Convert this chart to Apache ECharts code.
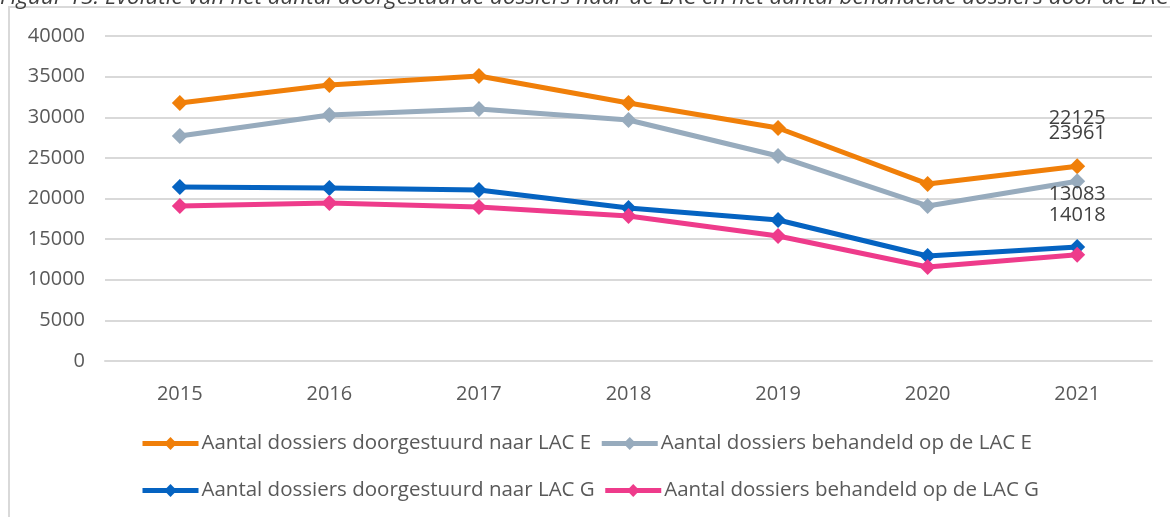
<!DOCTYPE html>
<html>
<head>
<meta charset="utf-8">
<script src="https://cdn.jsdelivr.net/npm/echarts@6/dist/echarts.min.js"></script>
<style>
html,body{margin:0;padding:0;background:#fff;}
#chart{width:1170px;height:517px;}
</style>
</head>
<body>
<div id="chart"></div>
<script>
var categories = ['2015', '2016', '2017', '2018', '2019', '2020', '2021'];
var seriesNames = [
  'Aantal dossiers doorgestuurd naar LAC E',
  'Aantal dossiers behandeld op de LAC E',
  'Aantal dossiers doorgestuurd naar LAC G',
  'Aantal dossiers behandeld op de LAC G'
];
var doorgestuurdE = [31750, 33970, 35080, 31750, 28680, 21790, 23961];
var behandeldE    = [27700, 30280, 31020, 29660, 25230, 19080, 22125];
var doorgestuurdG = [21420, 21290, 21050, 18830, 17350, 12920, 14018];
var behandeldG    = [19080, 19450, 18950, 17850, 15380, 11570, 13083];
var yTicks = { min: 0, max: 40000, interval: 5000 };
var captionText = 'Figuur 13: Evolutie van het aantal doorgestuurde dossiers naar de LAC en het aantal behandelde dossiers door de LAC';

var colors = ['#F07F09', '#97ABBD', '#0563C1', '#EE3B8B'];
var FONT = '"Open Sans", sans-serif';
var lastLabelOffsets = [-10, -40, -9, -37];

function makeSeries(idx, data) {
  return {
    name: seriesNames[idx],
    type: 'line',
    data: data.map(function (v, i) {
      if (i === data.length - 1) {
        return {
          value: v,
          label: {
            show: true,
            position: 'top',
            offset: [0, lastLabelOffsets[idx]],
            color: '#404040',
            fontFamily: FONT,
            fontSize: 20,
            formatter: function (p) { return String(p.value); }
          }
        };
      }
      return v;
    }),
    symbol: 'diamond',
    symbolSize: 16,
    lineStyle: { width: 5, color: colors[idx] },
    itemStyle: { color: colors[idx] },
    emphasis: { disabled: true },
    animation: false
  };
}

var chart = echarts.init(document.getElementById('chart'), null, { renderer: 'canvas' });
var legendCommon = {
  itemWidth: 56,
  itemHeight: 16,
  itemGap: 8,
  padding: 0,
  lineStyle: { width: 5 },
  textStyle: { color: '#595959', fontFamily: FONT, fontSize: 20.5, padding: [0, 0, 0, -2] }
};
chart.setOption({
  color: colors,
  animation: false,
  graphic: [
    {
      type: 'rect',
      shape: { x: 9, y: 7, width: 1200, height: 600 },
      style: { fill: 'none', stroke: '#d9d9d9', lineWidth: 2 },
      silent: true
    },
    {
      type: 'text',
      left: 0,
      top: -14,
      style: {
        text: captionText,
        fontFamily: FONT,
        fontStyle: 'italic',
        fontSize: 22.5,
        fill: '#404040'
      },
      silent: true
    }
  ],
  grid: { left: 105, right: 18, top: 36, bottom: 156 },
  xAxis: {
    type: 'category',
    data: categories,
    boundaryGap: true,
    axisLine: { show: true, lineStyle: { color: '#d9d9d9', width: 2 } },
    axisTick: { show: false },
    axisLabel: { color: '#595959', fontFamily: FONT, fontSize: 20, margin: 23 }
  },
  yAxis: {
    type: 'value',
    min: yTicks.min,
    max: yTicks.max,
    interval: yTicks.interval,
    axisLine: { show: false },
    axisTick: { show: false },
    splitLine: { lineStyle: { color: '#d9d9d9', width: 2 } },
    axisLabel: {
      color: '#595959', fontFamily: FONT, fontSize: 20, margin: 20,
      formatter: function (v) { return String(v); }
    }
  },
  legend: [
    Object.assign({}, legendCommon, { data: [seriesNames[0], seriesNames[1]], left: 140, top: 433 }),
    Object.assign({}, legendCommon, { data: [seriesNames[2], seriesNames[3]], left: 140, top: 480 })
  ],
  series: [
    makeSeries(0, doorgestuurdE),
    makeSeries(1, behandeldE),
    makeSeries(2, doorgestuurdG),
    makeSeries(3, behandeldG)
  ]
});
</script>
</body>
</html>
